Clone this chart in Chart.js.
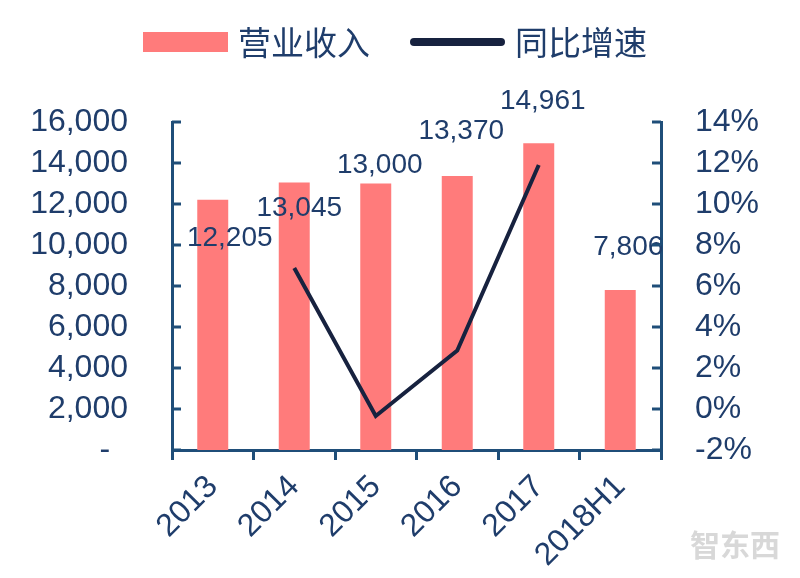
<!DOCTYPE html>
<html>
<head>
<meta charset="utf-8">
<script src="https://cdn.jsdelivr.net/npm/chart.js@4/dist/chart.umd.min.js"></script>
<style>
  html, body { margin: 0; padding: 0; background: #fff; }
  #wrap { width: 800px; height: 578px; }
</style>
</head>
<body>
<div id="wrap"><canvas id="chart" width="800" height="578"></canvas></div>
<script>
var years = ["2013", "2014", "2015", "2016", "2017", "2018H1"];
var revenue = [12205, 13045, 13000, 13370, 14961, 7806];
var growth = [null, 6.88, -0.34, 2.85, 11.9, null];
var revenueLabels = ["12,205", "13,045", "13,000", "13,370", "14,961", "7,806"];

// where each value label sits relative to its bar top (px)
var labelShift = [[17, 38], [5, 26], [4, -18], [4, -45], [4, -42], [8, -43]];

var textColor = "#1f3d6b";
var axisColor = "#1f4e79";
var barColor = "#ff7b7b";
var lineColor = "#17223f";
var numFont = "'Liberation Sans', Arial, sans-serif";
var cjkFont = "'Noto Sans CJK SC', sans-serif";

var extras = {
  id: "extras",
  afterDatasetsDraw: function(chart) {
    var ctx = chart.ctx;
    var bars = chart.getDatasetMeta(0).data;
    ctx.save();
    ctx.font = "28px " + numFont;
    ctx.fillStyle = textColor;
    ctx.textAlign = "center";
    ctx.textBaseline = "middle";
    bars.forEach(function(bar, i) {
      ctx.fillText(revenueLabels[i], bar.x + labelShift[i][0], bar.y + labelShift[i][1]);
    });
    ctx.restore();
  },
  afterDraw: function(chart) {
    var ctx = chart.ctx;
    var area = chart.chartArea;
    ctx.save();
    // inward ticks on both value axes
    ctx.strokeStyle = axisColor;
    ctx.lineWidth = 3;
    chart.scales.y.ticks.forEach(function(t) {
      var y = chart.scales.y.getPixelForValue(t.value);
      ctx.beginPath(); ctx.moveTo(area.left, y); ctx.lineTo(area.left + 9, y); ctx.stroke();
    });
    chart.scales.y1.ticks.forEach(function(t) {
      var y = chart.scales.y1.getPixelForValue(t.value);
      ctx.beginPath(); ctx.moveTo(area.right - 9, y); ctx.lineTo(area.right, y); ctx.stroke();
    });

    // legend
    ctx.font = "33px " + cjkFont;
    ctx.textBaseline = "middle";
    ctx.textAlign = "left";
    var t1 = chart.data.datasets[0].label, t2 = chart.data.datasets[1].label;
    var w1 = ctx.measureText(t1).width, w2 = ctx.measureText(t2).width;
    var total = 85 + 10 + w1 + 40 + 95 + 10 + w2;
    var x = chart.width / 2 - 5 - total / 2, cy = 42;
    ctx.fillStyle = barColor;
    ctx.fillRect(x, cy - 10, 85, 20);
    x += 95;
    ctx.fillStyle = textColor;
    ctx.fillText(t1, x, cy);
    x += w1 + 40;
    ctx.strokeStyle = lineColor;
    ctx.lineWidth = 8;
    ctx.lineCap = "round";
    ctx.beginPath(); ctx.moveTo(x + 4, cy); ctx.lineTo(x + 91, cy); ctx.stroke();
    x += 105;
    ctx.fillText(t2, x, cy);

    // watermark
    ctx.font = "bold 30px " + cjkFont;
    ctx.fillStyle = "rgba(190,190,190,0.6)";
    ctx.textAlign = "center";
    ctx.fillText("智东西", 735, 545);
    ctx.restore();
  }
};

new Chart(document.getElementById("chart"), {
  type: "bar",
  data: {
    labels: years,
    datasets: [{
      label: "营业收入",
      data: revenue,
      backgroundColor: barColor,
      barPercentage: 0.38,
      categoryPercentage: 1,
      yAxisID: "y",
      order: 2
    }, {
      type: "line",
      label: "同比增速",
      data: growth,
      borderColor: lineColor,
      borderWidth: 4,
      pointRadius: 0,
      tension: 0,
      fill: false,
      yAxisID: "y1",
      order: 1
    }]
  },
  options: {
    responsive: false,
    animation: false,
    layout: {padding: {top: 122, left: 0, right: 0, bottom: 0}},
    plugins: {
      legend: {display: false},
      tooltip: {enabled: false}
    },
    scales: {
      x: {
        grid: {display: true, drawOnChartArea: false, offset: true, color: axisColor, lineWidth: 3, tickLength: 10},
        border: {color: axisColor, width: 3},
        ticks: {color: textColor, font: {family: numFont, size: 32}, minRotation: 45, maxRotation: 45, padding: 8},
        afterFit: function(s) { s.height = 128; }
      },
      y: {
        position: "left",
        min: 0, max: 16000,
        grid: {display: false},
        border: {color: axisColor, width: 3},
        ticks: {
          stepSize: 2000,
          autoSkip: false,
          color: textColor,
          font: {family: numFont, size: 32},
          padding: 36,
          callback: function(v) { return v === 0 ? "-  " : v.toLocaleString("en-US"); }
        },
        afterFit: function(s) { s.width = 172; }
      },
      y1: {
        position: "right",
        min: -2, max: 14,
        grid: {display: false},
        border: {color: axisColor, width: 3},
        ticks: {
          stepSize: 2,
          autoSkip: false,
          color: textColor,
          font: {family: numFont, size: 32},
          padding: 26,
          callback: function(v) { return v + "%"; }
        },
        afterFit: function(s) { s.width = 139; }
      }
    }
  },
  plugins: [extras]
});
</script>
</body>
</html>
